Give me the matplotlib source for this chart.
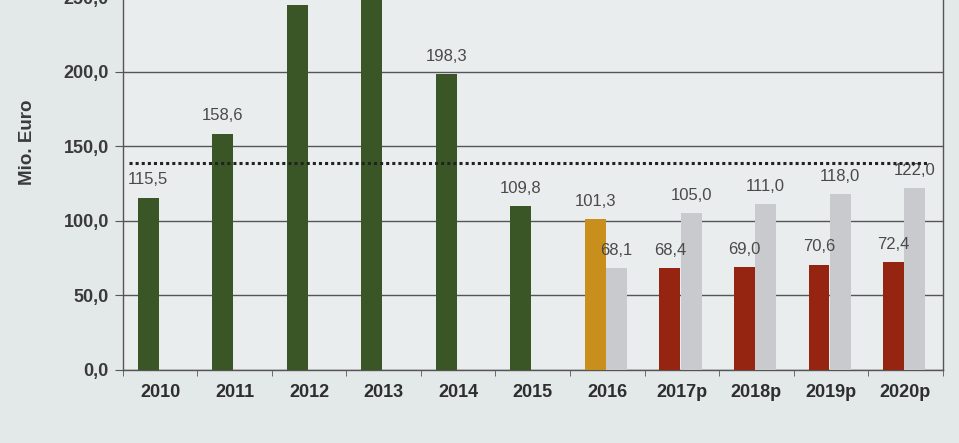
import numpy as np
import matplotlib
matplotlib.use("Agg")
import matplotlib.pyplot as plt

plt.rcParams['font.family'] = ['Liberation Sans', 'DejaVu Sans']

# data
years = ['2010', '2011', '2012', '2013', '2014', '2015',
         '2016', '2017p', '2018p', '2019p', '2020p']
main_vals = [115.5, 158.6, 245.0, 255.0, 198.3, 109.8,
             101.3, 68.4, 69.0, 70.6, 72.4]
main_kind = ['ist', 'ist', 'ist', 'ist', 'ist', 'ist',
             'akt', 'plan', 'plan', 'plan', 'plan']
gray_vals = [None, None, None, None, None, None,
             68.1, 105.0, 111.0, 118.0, 122.0]
avg_line = 139.0
y_ticks = [0, 50, 100, 150, 200, 250]

colors = {'ist': '#3b5626', 'akt': '#c98f1c', 'plan': '#952410'}
gray_col = '#c9cacd'
bg = '#e3e8e8'


def fmt(v):
    return f'{v:.1f}'.replace('.', ',')


fig = plt.figure(figsize=(9.59, 4.43), dpi=100, facecolor=bg)
ax = fig.add_axes([0.128, 0.165, 0.855, 0.841])
ax.set_facecolor('#eaeded')
ymax = 250

x = np.arange(len(years))
w = 0.28
off_main = -0.16
off_gray = 0.125

for i, (v, k) in enumerate(zip(main_vals, main_kind)):
    ax.bar(x[i] + off_main, v, width=w, color=colors[k], zorder=3)
    # labels above the visible top are cut away in the original photo
    if v + 20 < ymax:
        ax.text(x[i] + off_main, v + 7, fmt(v), ha='center', va='bottom',
                fontsize=12, color='#4a4a4a', zorder=4)

for i, v in enumerate(gray_vals):
    if v is None:
        continue
    ax.bar(x[i] + off_gray, v, width=w, color=gray_col, zorder=3)
    ax.text(x[i] + off_gray, v + 7, fmt(v), ha='center', va='bottom',
            fontsize=12, color='#4a4a4a', zorder=4)

ax.hlines(avg_line, -0.42, len(years) - 0.68, color='#222222', lw=2.2,
          linestyles=(0, (1.0, 1.0)), zorder=4)

ax.set_xlim(-0.5, len(years) - 0.5)
ax.set_ylim(0, ymax)
ax.set_yticks(y_ticks)
ax.set_yticklabels([fmt(t) for t in y_ticks], fontsize=13,
                   fontweight='bold', color='#3a3a3a')
ax.yaxis.grid(True, color='#555555', lw=1.0, zorder=1)

ax.set_xticks(x)
ax.set_xticklabels(years, fontsize=13, fontweight='bold', color='#2e2e2e')
ax.set_xticks(np.arange(len(years) + 1) - 0.5, minor=True)
ax.tick_params(axis='x', which='major', length=0, pad=10)
ax.tick_params(axis='x', which='minor', length=4, color='#555555')
ax.tick_params(axis='y', length=6, color='#555555', pad=4)

for s in ['left', 'bottom', 'right']:
    ax.spines[s].set_color('#555555')
    ax.spines[s].set_linewidth(1.0)
ax.spines['top'].set_visible(False)

ax.set_ylabel('Mio. Euro', fontsize=13.5, fontweight='bold',
              color='#3a3a3a')
ax.yaxis.set_label_coords(-0.106, 0.61)

fig.savefig('out.png', dpi=100, facecolor=bg)
